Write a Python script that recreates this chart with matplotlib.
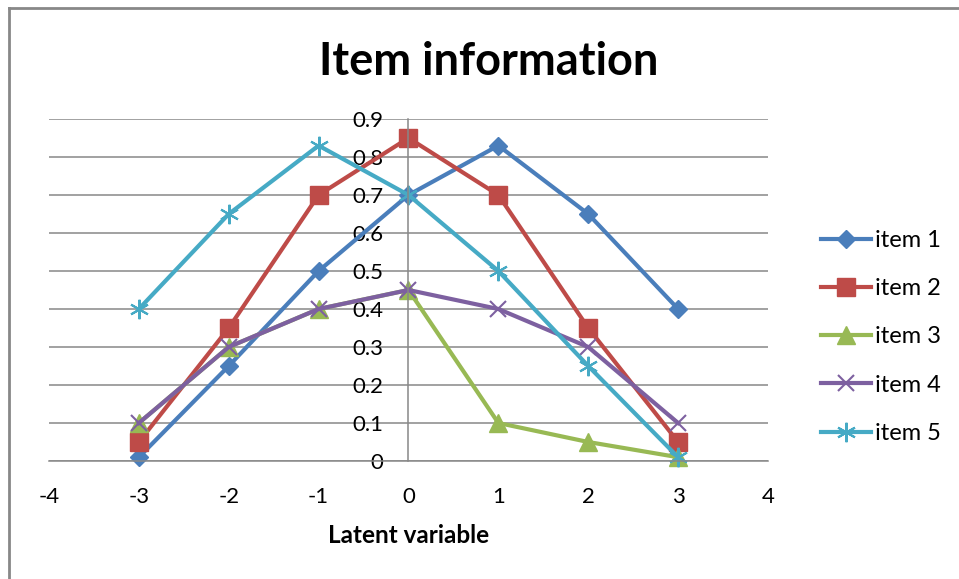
import matplotlib.pyplot as plt
from matplotlib.lines import Line2D

plt.rcParams['font.family'] = ['Lato', 'DejaVu Sans']
plt.rcParams['axes.unicode_minus'] = False

theta = [-3, -2, -1, 0, 1, 2, 3]
item1 = [0.01, 0.25, 0.50, 0.70, 0.83, 0.65, 0.40]
item2 = [0.05, 0.35, 0.70, 0.85, 0.70, 0.35, 0.05]
item3 = [0.10, 0.30, 0.40, 0.45, 0.10, 0.05, 0.01]
item4 = [0.10, 0.30, 0.40, 0.45, 0.40, 0.30, 0.10]
item5 = [0.40, 0.65, 0.83, 0.70, 0.50, 0.25, 0.01]

labels = ["item 1", "item 2", "item 3", "item 4", "item 5"]
x_ticks = [-4, -3, -2, -1, 0, 1, 2, 3, 4]
y_ticks = [0, 0.1, 0.2, 0.3, 0.4, 0.5, 0.6, 0.7, 0.8, 0.9]
y_ticklabels = ["0", "0.1", "0.2", "0.3", "0.4", "0.5", "0.6", "0.7", "0.8", "0.9"]

fig = plt.figure(figsize=(9.59, 5.79), dpi=100)
ax = fig.add_axes([0.0511, 0.2038, 0.7497, 0.5907])

grid_col = "#888888"

# horizontal gridlines only
ax.set_yticks(y_ticks)
ax.set_yticklabels(y_ticklabels)
ax.set_xticks(x_ticks)
ax.yaxis.grid(True, color=grid_col, linewidth=1.1)
ax.set_axisbelow(True)
ax.set_xlim(-4, 4)
ax.set_ylim(0, 0.9)

# y axis crosses at x = 0
for s in ["top", "right"]:
    ax.spines[s].set_visible(False)
ax.spines["left"].set_position(("data", 0))
ax.spines["left"].set_color(grid_col)
ax.spines["left"].set_linewidth(1.1)
ax.spines["bottom"].set_color(grid_col)
ax.spines["bottom"].set_linewidth(1.1)
ax.tick_params(axis="both", length=0, labelsize=16)
ax.tick_params(axis="y", pad=18)
ax.tick_params(axis="x", pad=19)

styles = [
    ("#4A7EBB", dict(marker="D", markersize=9)),
    ("#BE4B48", dict(marker="s", markersize=13)),
    ("#98B954", dict(marker="^", markersize=13)),
    ("#7D60A0", dict(marker="x", markersize=12, markeredgewidth=1.5)),
    ("#46AAC5", dict(marker=(6, 2, 0), markersize=14, markeredgewidth=1.5)),
]
series = [item1, item2, item3, item4, item5]

for vals, lab, (col, mk) in zip(series, labels, styles):
    ax.plot(theta, vals, color=col, linewidth=3, label=lab,
            markerfacecolor=col, markeredgecolor=col, clip_on=False, **mk)

ax.set_xlabel("Latent variable", fontsize=17.5, fontweight="bold", labelpad=12)
fig.text(0.51, 0.893, "Item information", ha="center", va="center",
         fontsize=32.5, fontweight="bold")

ax.legend(loc="center left", bbox_to_anchor=(0.834, 0.418),
          bbox_transform=fig.transFigure, frameon=False, fontsize=17,
          handlelength=2.1, handletextpad=0.2, labelspacing=1.15)

# chart border (left and top edges)
fig.add_artist(Line2D([0.0094, 0.0094], [0, 0.986], color="#888888", linewidth=2))
fig.add_artist(Line2D([0.0094, 1], [0.986, 0.986], color="#888888", linewidth=2))

fig.savefig("out.png", dpi=100)
